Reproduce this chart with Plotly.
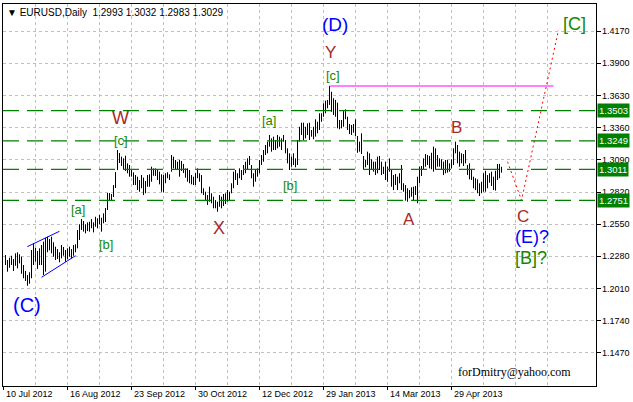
import plotly.graph_objects as go

# ---------------- data ----------------
# daily bar highs / lows, EURUSD, bar 0 = 10 Jul 2012
highs = [
    1.2292, 1.2250, 1.2269, 1.2286, 1.2258, 1.2306, 1.2315, 1.2298, 1.2278, 1.2208,
    1.2158, 1.2124, 1.2147, 1.2334, 1.2390, 1.2353, 1.2326, 1.2348, 1.2376, 1.2404,
    1.2437, 1.2446, 1.2426, 1.2446, 1.2399, 1.2362, 1.2342, 1.2315, 1.2376, 1.2359,
    1.2334, 1.2348, 1.2362, 1.2342, 1.2376, 1.2382, 1.2502, 1.2550, 1.2594, 1.2577,
    1.2550, 1.2566, 1.2571, 1.2594, 1.2566, 1.2613, 1.2600, 1.2628, 1.2605, 1.2642,
    1.2686, 1.2812, 1.2812, 1.2804, 1.2879, 1.2988, 1.3173, 1.3148, 1.3117, 1.3103,
    1.3125, 1.3061, 1.3047, 1.3005, 1.2986, 1.2963, 1.2949, 1.2921, 1.2963, 1.2941,
    1.2913, 1.2963, 1.2969, 1.3033, 1.3019, 1.3019, 1.3005, 1.2991, 1.2969, 1.2963,
    1.2978, 1.2986, 1.2969, 1.3131, 1.3117, 1.3089, 1.3075, 1.3089, 1.3081, 1.3056,
    1.3019, 1.3019, 1.3005, 1.2963, 1.2949, 1.2978, 1.3019, 1.2978, 1.2963, 1.2852,
    1.2823, 1.2795, 1.2865, 1.2810, 1.2781, 1.2753, 1.2739, 1.2795, 1.2781, 1.2804,
    1.2810, 1.2837, 1.2823, 1.2894, 1.2991, 1.3005, 1.2978, 1.3019, 1.3005, 1.3047,
    1.3075, 1.3103, 1.3123, 1.3047, 1.2978, 1.3005, 1.3019, 1.3089, 1.3131, 1.3173,
    1.3215, 1.3243, 1.3299, 1.3271, 1.3285, 1.3257, 1.3299, 1.3285, 1.3271, 1.3299,
    1.3257, 1.3187, 1.3145, 1.3117, 1.3145, 1.3103, 1.3257, 1.3368, 1.3402, 1.3402,
    1.3368, 1.3397, 1.3402, 1.3341, 1.3368, 1.3431, 1.3410, 1.3481, 1.3481, 1.3565,
    1.3587, 1.3593, 1.3710, 1.3662, 1.3607, 1.3593, 1.3570, 1.3425, 1.3425, 1.3509,
    1.3514, 1.3452, 1.3391, 1.3383, 1.3391, 1.3431, 1.3290, 1.3243, 1.3313, 1.3123,
    1.3089, 1.3159, 1.3145, 1.3095, 1.3075, 1.3075, 1.3117, 1.3123, 1.3075, 1.3033,
    1.3075, 1.3033, 1.3103, 1.3005, 1.2963, 1.2972, 1.2949, 1.2978, 1.3047, 1.2894,
    1.2879, 1.2852, 1.2837, 1.2860, 1.2865, 1.2871, 1.2949, 1.3033, 1.3039, 1.3103,
    1.3139, 1.3131, 1.3123, 1.3150, 1.3201, 1.3187, 1.3131, 1.3103, 1.3095, 1.3075,
    1.3089, 1.3089, 1.3061, 1.3095, 1.3187, 1.3243, 1.3215, 1.3159, 1.3145, 1.3139,
    1.3173, 1.3047, 1.3061, 1.3005, 1.2949, 1.2936, 1.2927, 1.2894, 1.2907, 1.2978,
    1.2999, 1.2963, 1.2978, 1.2991, 1.2949, 1.2999, 1.3056, 1.3056, 1.3032,
]
lows = [
    1.2208, 1.2152, 1.2185, 1.2208, 1.2158, 1.2202, 1.2180, 1.2222, 1.2135, 1.2097,
    1.2074, 1.2034, 1.2051, 1.2097, 1.2208, 1.2236, 1.2175, 1.2208, 1.2208, 1.2124,
    1.2152, 1.2315, 1.2331, 1.2306, 1.2278, 1.2250, 1.2258, 1.2231, 1.2264, 1.2286,
    1.2236, 1.2256, 1.2278, 1.2264, 1.2286, 1.2315, 1.2348, 1.2418, 1.2502, 1.2488,
    1.2474, 1.2493, 1.2488, 1.2516, 1.2482, 1.2529, 1.2516, 1.2550, 1.2488, 1.2558,
    1.2569, 1.2670, 1.2753, 1.2753, 1.2779, 1.2854, 1.3005, 1.3064, 1.3039, 1.3005,
    1.2997, 1.2978, 1.2949, 1.2949, 1.2879, 1.2879, 1.2837, 1.2823, 1.2852, 1.2795,
    1.2810, 1.2865, 1.2865, 1.2907, 1.2957, 1.2955, 1.2921, 1.2885, 1.2823, 1.2818,
    1.2894, 1.2936, 1.2921, 1.2991, 1.3019, 1.3005, 1.3005, 1.2949, 1.2997, 1.2980,
    1.2941, 1.2907, 1.2894, 1.2885, 1.2879, 1.2879, 1.2936, 1.2907, 1.2810, 1.2795,
    1.2753, 1.2712, 1.2739, 1.2726, 1.2684, 1.2684, 1.2655, 1.2697, 1.2684, 1.2703,
    1.2720, 1.2739, 1.2753, 1.2810, 1.2852, 1.2921, 1.2879, 1.2936, 1.2921, 1.2963,
    1.2978, 1.3005, 1.3047, 1.2936, 1.2865, 1.2907, 1.2949, 1.2978, 1.3047, 1.3075,
    1.3131, 1.3145, 1.3201, 1.3159, 1.3173, 1.3173, 1.3187, 1.3201, 1.3173, 1.3243,
    1.3145, 1.3061, 1.3005, 1.3033, 1.3047, 1.3028, 1.3047, 1.3243, 1.3299, 1.3257,
    1.3271, 1.3299, 1.3257, 1.3285, 1.3263, 1.3285, 1.3313, 1.3341, 1.3410, 1.3452,
    1.3481, 1.3523, 1.3551, 1.3494, 1.3467, 1.3452, 1.3355, 1.3347, 1.3355, 1.3368,
    1.3431, 1.3341, 1.3307, 1.3299, 1.3318, 1.3290, 1.3150, 1.3159, 1.3139, 1.3011,
    1.3028, 1.3047, 1.2963, 1.3011, 1.2991, 1.2963, 1.2978, 1.3005, 1.2963, 1.2972,
    1.2921, 1.2907, 1.2991, 1.2865, 1.2837, 1.2879, 1.2837, 1.2894, 1.2837, 1.2823,
    1.2748, 1.2739, 1.2768, 1.2781, 1.2753, 1.2795, 1.2726, 1.2894, 1.2955, 1.3011,
    1.3033, 1.3047, 1.3019, 1.3011, 1.2991, 1.3011, 1.3033, 1.3033, 1.3005, 1.2963,
    1.2978, 1.2983, 1.2991, 1.3019, 1.3047, 1.3145, 1.3061, 1.3033, 1.3061, 1.3039,
    1.3061, 1.2963, 1.2927, 1.2921, 1.2852, 1.2837, 1.2810, 1.2787, 1.2810, 1.2823,
    1.2823, 1.2852, 1.2899, 1.2871, 1.2837, 1.2832, 1.2921, 1.2936, 1.2983,
]
assert len(highs) == len(lows)

date_labels = ["10 Jul 2012", "16 Aug 2012", "23 Sep 2012", "30 Oct 2012",
               "12 Dec 2012", "29 Jan 2013", "14 Mar 2013", "29 Apr 2013"]
price_ticks = [1.1470, 1.1740, 1.2010, 1.2280, 1.2550, 1.2820,
               1.3090, 1.3360, 1.3630, 1.3900, 1.4170]
levels = [1.3503, 1.3249, 1.3011, 1.2751]
header_text = "EURUSD,Daily  1.2993 1.3032 1.2983 1.3029"

# projected path (bar index, price)
forecast_x = [251, 258, 276.5]
forecast_y = [1.3075, 1.2751, 1.4180]
# triangle channel lines
chan_up_x, chan_up_y = [10.9, 27], [1.2362, 1.2491]
chan_lo_x, chan_lo_y = [18, 35], [1.2105, 1.2286]
peak_line_end = 274

# wave labels: text, bar index, price, colour, size
BROWN, BLUE, GREEN = "#A52A2A", "#0000FF", "#118A00"
wave_labels = [
    ("(D)", 164.5, 1.4222, BLUE, 19),
    ("Y", 162.5, 1.3995, BROWN, 17),
    ("[c]", 163.5, 1.3802, GREEN, 13),
    ("W", 57.5, 1.3442, BROWN, 18),
    ("[c]", 57.5, 1.3250, GREEN, 13),
    ("[a]", 36, 1.2678, GREEN, 13),
    ("[b]", 50, 1.2384, GREEN, 13),
    ("(C)", 10.5, 1.1872, BLUE, 20),
    ("X", 106.5, 1.2519, BROWN, 18),
    ("[a]", 131.5, 1.3417, GREEN, 13),
    ("[b]", 142, 1.2879, GREEN, 13),
    ("B", 225.5, 1.3366, BROWN, 17),
    ("A", 201.5, 1.2586, BROWN, 17),
    ("C", 258.5, 1.2611, BROWN, 17),
    ("(E)?", 263, 1.2443, BLUE, 18),
    ("[B]?", 262.5, 1.2270, GREEN, 18),
    ("[C]", 284.5, 1.4230, GREEN, 18),
]

BARS_PER_LABEL = 32
BARS_PER_GRID = 16
FONT = "Liberation Sans"

# ---------------- figure ----------------
bx, by = [], []
for i, (h, l) in enumerate(zip(highs, lows)):
    bx += [i, i, None]
    by += [l, h, None]

fig = go.Figure()
fig.add_trace(go.Scatter(x=bx, y=by, mode="lines",
                         line=dict(color="black", width=1), hoverinfo="skip"))
fig.add_trace(go.Scatter(x=forecast_x, y=forecast_y, mode="lines",
                         line=dict(color="#FF0000", width=1, dash="2px,3px")))
fig.add_trace(go.Scatter(x=chan_up_x, y=chan_up_y, mode="lines",
                         line=dict(color="#0000FF", width=1)))
fig.add_trace(go.Scatter(x=chan_lo_x, y=chan_lo_y, mode="lines",
                         line=dict(color="#0000FF", width=1)))

peak_idx = max(range(len(highs)), key=lambda k: highs[k])
fig.add_trace(go.Scatter(x=[peak_idx, peak_line_end],
                         y=[highs[peak_idx], highs[peak_idx]], mode="lines",
                         line=dict(color="#FF00FF", width=1)))

shapes = []
for lv in levels:
    shapes.append(dict(type="line", xref="paper", x0=0, x1=1, yref="y", y0=lv, y1=lv,
                       line=dict(color="#008000", width=1.2, dash="16px,8px")))

annotations = []
label_pos = [BARS_PER_LABEL * k - 1 for k in range(len(date_labels))]
minor_pos = [p + BARS_PER_GRID for p in label_pos] + [label_pos[-1] + 2 * BARS_PER_GRID,
                                                      label_pos[-1] + 3 * BARS_PER_GRID]

# date labels (left-aligned at their tick, like the terminal)
for pos, txt in zip(label_pos, date_labels):
    annotations.append(dict(xref="x", x=pos, yref="paper", y=0, xanchor="left",
                            yanchor="top", xshift=0, yshift=-1, showarrow=False,
                            text=txt, font=dict(family=FONT, size=9, color="black")))
# price labels on the right
for v in price_ticks:
    annotations.append(dict(xref="paper", x=1, xanchor="left", xshift=4,
                            yref="y", y=v, yanchor="middle", showarrow=False,
                            text="%.4f" % v, font=dict(family=FONT, size=9, color="black")))
# level boxes
for lv in levels:
    annotations.append(dict(xref="paper", x=1, xanchor="left", xshift=1,
                            yref="y", y=lv, yanchor="middle", text="%.4f" % lv,
                            showarrow=False, bgcolor="#008000", borderpad=1,
                            font=dict(family=FONT, size=9.5, color="white")))
for txt, xi, yp, col, sz in wave_labels:
    annotations.append(dict(xref="x", x=xi, yref="y", y=yp, text=txt, showarrow=False,
                            xanchor="center", yanchor="middle",
                            font=dict(family=FONT, size=sz, color=col)))
annotations.append(dict(xref="paper", x=0, y=1, yref="paper", xanchor="left", yanchor="top",
                        xshift=2, yshift=-1, showarrow=False,
                        text="\u25BC " + header_text.replace(" ", "\u00a0"),
                        font=dict(family=FONT, size=10, color="black")))
annotations.append(dict(xref="x", x=254.5, yref="y", y=1.1311, showarrow=False,
                        text="forDmitry@yahoo.com",
                        font=dict(family="Liberation Serif", size=12, color="black")))

grid = dict(gridcolor="#C0C0C0", griddash="3px,3px", gridwidth=1)

fig.update_layout(
    width=633, height=402,
    margin=dict(l=3, r=37, t=4, b=16),
    paper_bgcolor="white", plot_bgcolor="white",
    showlegend=False,
    shapes=shapes, annotations=annotations,
    xaxis=dict(range=[-1.25, 295.25], tickvals=label_pos, showticklabels=False,
               ticks="outside", ticklen=3, tickcolor="black",
               showgrid=True, **grid,
               minor=dict(tickvals=minor_pos, showgrid=True, ticks="", **grid),
               showline=True, linecolor="black", linewidth=1, mirror=True,
               zeroline=False, automargin=False, fixedrange=True),
    yaxis=dict(range=[1.1193, 1.4398], side="right", tickvals=price_ticks,
               showticklabels=False,
               ticks="outside", ticklen=4, tickcolor="black",
               showgrid=True, **grid,
               showline=True, linecolor="black", linewidth=1, mirror=True,
               zeroline=False, automargin=False, fixedrange=True),
)

fig.write_html("out.html", config={"displayModeBar": False},
               post_script="document.body.style.margin='0';"
                           "document.documentElement.style.overflow='hidden';")
